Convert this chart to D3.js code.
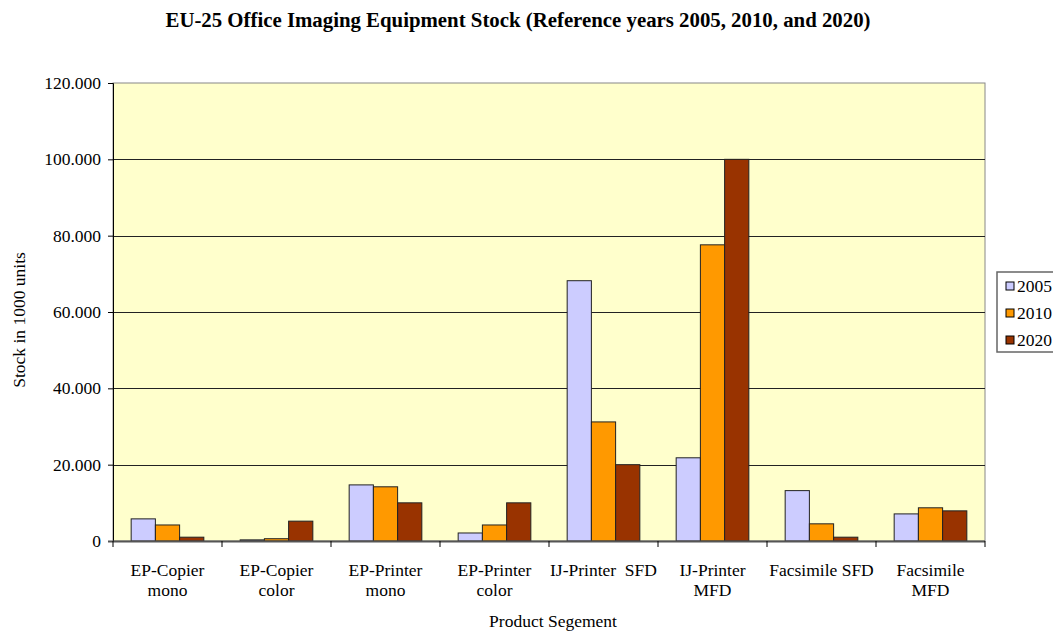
<!DOCTYPE html>
<html>
<head>
<meta charset="utf-8">
<script src="https://cdn.jsdelivr.net/npm/d3@7"></script>
<style>
  body { margin: 0; background: #fff; }
  svg text { font-family: "Liberation Serif", "Times New Roman", serif !important; fill: #000; }
</style>
</head>
<body>
<div id="chart"></div>
<script>
// data
const categories = [
  ["EP-Copier", "mono"], ["EP-Copier", "color"], ["EP-Printer", "mono"], ["EP-Printer", "color"],
  ["IJ-Printer  SFD"], ["IJ-Printer", "MFD"], ["Facsimile SFD"], ["Facsimile", "MFD"]
];
const years = ["2005", "2010", "2020"];
const v2005 = [5.8, 0.3, 14.7, 2.1, 68.2, 21.8, 13.2, 7.1];
const v2010 = [4.2, 0.6, 14.2, 4.2, 31.2, 77.6, 4.5, 8.7];
const v2020 = [1.0, 5.2, 10.0, 10.0, 20.0, 100.0, 1.0, 7.9];
const yTicks = [0, 20, 40, 60, 80, 100, 120];
const yTickLabels = ["0", "20.000", "40.000", "60.000", "80.000", "100.000", "120.000"];
const colors = ["#CCCCFF", "#FF9900", "#993300"];

const series = [v2005, v2010, v2020];
const W = 1053, H = 632;
const m = {left: 113, right: 985, top: 83, bottom: 541};
const fs = '17.5px';

const svg = d3.select('#chart').append('svg')
  .attr('width', W).attr('height', H);

svg.append('text')
  .attr('x', 518).attr('y', 27)
  .attr('text-anchor', 'middle')
  .attr('textLength', 705).attr('lengthAdjust', 'spacingAndGlyphs')
  .style('font-size', '20px').style('font-weight', 'bold')
  .text('EU-25 Office Imaging Equipment Stock (Reference years 2005, 2010, and 2020)');

const x = d3.scaleBand().domain(d3.range(categories.length)).range([m.left, m.right]);
const xs = d3.scaleBand().domain(d3.range(years.length))
  .range([0, x.bandwidth()]).paddingOuter(0.75).paddingInner(0);
const y = d3.scaleLinear().domain([0, 120]).range([m.bottom, m.top]);

// plot background
svg.append('rect')
  .attr('x', m.left).attr('y', m.top)
  .attr('width', m.right - m.left).attr('height', m.bottom - m.top)
  .style('fill', '#FFFFCC').style('stroke', '#888').style('stroke-width', 1);

// grid
svg.selectAll('.grid').data(yTicks.filter(t => t > 0 && t < 120)).enter()
  .append('line')
  .attr('x1', m.left).attr('x2', m.right)
  .attr('y1', d => Math.round(y(d)) + 0.5).attr('y2', d => Math.round(y(d)) + 0.5)
  .style('stroke', '#222').style('stroke-width', 1);

// bars
series.forEach((vals, s) => {
  svg.append('g').selectAll('rect').data(vals).enter()
    .append('rect')
    .attr('x', (d, i) => x(i) + xs(s))
    .attr('y', d => y(d))
    .attr('width', xs.bandwidth())
    .attr('height', d => y(0) - y(d))
    .style('fill', colors[s])
    .style('stroke', '#222').style('stroke-width', 1);
});

// y axis
const yAxis = d3.axisLeft(y).tickValues(yTicks).tickSize(5)
  .tickFormat((d, i) => yTickLabels[i]);
const ya = svg.append('g').attr('transform', `translate(${m.left},0)`).call(yAxis);
ya.select('.domain').style('stroke', '#000');
ya.selectAll('text').style('font-size', fs).attr('x', -12);

// x axis
const xa = svg.append('g').attr('transform', `translate(0,${m.bottom})`);
xa.append('line').attr('x1', m.left - 5).attr('x2', m.right)
  .attr('y1', 0.5).attr('y2', 0.5).style('stroke', '#555').style('stroke-width', 2);
xa.selectAll('.tk').data(d3.range(categories.length + 1)).enter()
  .append('line')
  .attr('x1', d => m.left + d * x.step()).attr('x2', d => m.left + d * x.step())
  .attr('y1', 0).attr('y2', 6).style('stroke', '#000');
categories.forEach((lines, i) => {
  const t = xa.append('text')
    .attr('text-anchor', 'middle')
    .attr('x', x(i) + x.bandwidth() / 2)
    .attr('y', 35)
    .style('font-size', fs)
    .style('white-space', 'pre');
  lines.forEach((l, j) => {
    t.append('tspan').attr('x', x(i) + x.bandwidth() / 2).attr('dy', j === 0 ? 0 : 20).text(l);
  });
});

// axis titles
svg.append('text')
  .attr('x', 553).attr('y', 627)
  .attr('text-anchor', 'middle').style('font-size', fs)
  .text('Product Segement');
svg.append('text')
  .attr('transform', 'translate(25,320) rotate(-90)')
  .attr('text-anchor', 'middle').style('font-size', fs)
  .text('Stock in 1000 units');

// legend
const lg = svg.append('g').attr('transform', 'translate(997,272)');
lg.append('rect').attr('x', 0).attr('y', 0).attr('width', 70).attr('height', 80)
  .style('fill', '#fff').style('stroke', '#666').style('stroke-width', 1.5);
years.forEach((yr, i) => {
  const gy = 14 + i * 27;
  lg.append('rect').attr('x', 9).attr('y', gy - 4).attr('width', 8).attr('height', 8)
    .style('fill', colors[i]).style('stroke', '#000');
  lg.append('text').attr('x', 20).attr('y', gy + 6).style('font-size', fs).text(yr);
});
</script>
</body>
</html>
